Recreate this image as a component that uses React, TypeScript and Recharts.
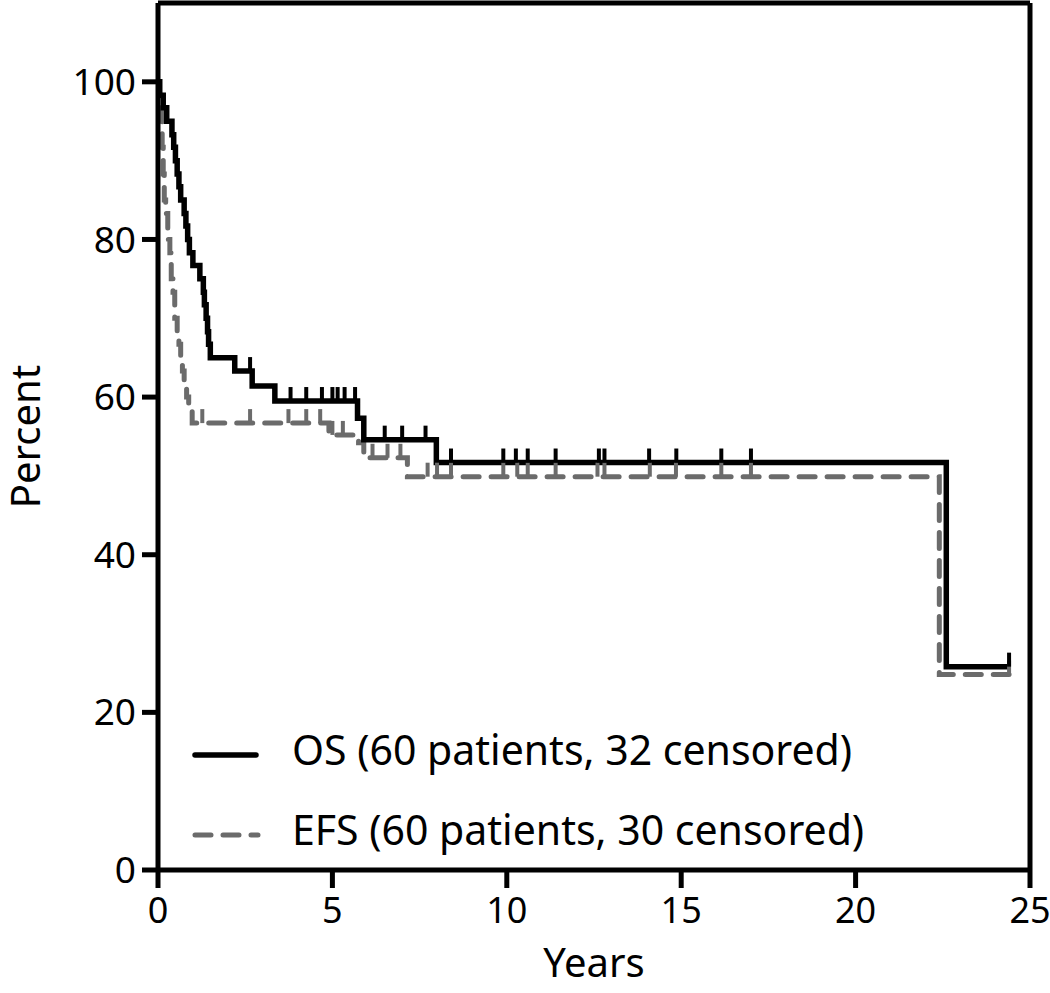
import React from 'react';
import { LineChart, Line, XAxis, YAxis, ReferenceLine } from 'recharts';

// Kaplan-Meier steps (years, percent)
const osTimes = [0, 0.05, 0.15, 0.25, 0.4, 0.45, 0.5, 0.55, 0.6, 0.65, 0.75, 0.8, 0.85, 0.9, 1.0, 1.2, 1.3, 1.33, 1.38, 1.42, 1.45, 1.5, 2.2, 2.7, 3.35, 5.72, 5.9, 7.98, 22.6];
const osPercent = [100, 98.3, 96.7, 95, 93.3, 91.7, 90, 88.3, 86.7, 85, 83.3, 81.7, 80, 78.3, 76.7, 75, 73.3, 71.7, 70, 68.3, 66.7, 65, 63.3, 61.4, 59.5, 57.3, 54.6, 51.7, 25.8];
const osCensored = [2.64, 3.8, 4.25, 4.7, 5.0, 5.15, 5.35, 5.65, 6.5, 7.0, 7.67, 8.4, 9.9, 10.26, 10.6, 11.4, 12.64, 12.8, 14.08, 14.86, 16.15, 17.0, 24.4];

const efsTimes = [0, 0.03, 0.06, 0.1, 0.12, 0.15, 0.18, 0.22, 0.28, 0.34, 0.38, 0.43, 0.48, 0.55, 0.6, 0.65, 0.7, 0.75, 0.82, 0.88, 0.98, 4.9, 5.75, 5.9, 7.15, 22.4];
const efsPercent = [100, 98.3, 96.7, 95, 91.7, 88.3, 85, 83.3, 80, 78.3, 75, 73.3, 70, 68.3, 66.7, 65, 63.3, 61.7, 60, 58.3, 56.7, 55.2, 54.2, 52.3, 49.9, 24.8];
const efsCensored = [1.27, 2.64, 3.74, 4.25, 4.65, 5.0, 5.3, 6.15, 6.58, 6.95, 7.73, 8.0, 8.4, 9.9, 10.3, 10.6, 11.4, 12.6, 12.8, 14.1, 14.85, 16.15, 17.0, 24.4];

const xTicks = [0, 5, 10, 15, 20, 25];
const yTicks = [0, 20, 40, 60, 80, 100];

const FONT = '"Noto Sans", sans-serif';
const GRAY = '#6b6b6b';

type Pt = { t: number; v: number; c: boolean };

function buildSeries(times: number[], pcts: number[], censored: number[]): Pt[] {
  const pts: Pt[] = times.map((t, i) => ({ t, v: pcts[i], c: false }));
  censored.forEach((t) => {
    let v = pcts[0];
    times.forEach((tt, i) => {
      if (tt <= t) v = pcts[i];
    });
    pts.push({ t, v, c: true });
  });
  return pts.sort((a, b) => a.t - b.t);
}

const osData = buildSeries(osTimes, osPercent, osCensored);
const efsData = buildSeries(efsTimes, efsPercent, efsCensored);

const censorDot = (color: string) => (props: any) => {
  const { cx, cy, payload, index } = props;
  if (!payload || !payload.c) return <g key={index} />;
  return <line key={index} x1={cx} x2={cx} y1={cy} y2={cy - 14} stroke={color} strokeWidth={4} />;
};

const App: React.FC = () => {
  return (
    <div style={{ position: 'absolute', left: 0, top: 0, width: 1050, height: 993, background: '#fff' }}>
      <LineChart width={1050} height={993} margin={{ top: 3, right: 20, bottom: 0, left: 0 }}>
        <XAxis
          dataKey="t"
          type="number"
          domain={[0, 25]}
          ticks={xTicks}
          allowDuplicatedCategory={false}
          height={123}
          stroke="#000"
          strokeWidth={5}
          tickSize={18}
          tickMargin={9}
          tick={{ fill: '#000', fontSize: 36, fontFamily: FONT }}
          label={{ value: 'Years', position: 'insideBottom', offset: 16, fill: '#000', fontSize: 40, fontFamily: FONT }}
        />
        <YAxis
          type="number"
          domain={[0, 110]}
          ticks={yTicks}
          width={158}
          stroke="#000"
          strokeWidth={5}
          tickSize={16}
          tickMargin={6}
          tick={{ fill: '#000', fontSize: 37, fontFamily: FONT }}
          label={{ value: 'Percent', angle: -90, position: 'insideLeft', offset: 26, fill: '#000', fontSize: 40, fontFamily: FONT, style: { textAnchor: 'middle' } }}
        />
        <ReferenceLine y={110} stroke="#000" strokeWidth={5} />
        <ReferenceLine x={25} stroke="#000" strokeWidth={5} />
        <Line
          data={efsData}
          dataKey="v"
          type="stepAfter"
          stroke={GRAY}
          strokeWidth={5}
          strokeDasharray="16 12"
          strokeLinecap="round"
          dot={censorDot(GRAY)}
          activeDot={false}
          isAnimationActive={false}
        />
        <Line
          data={osData}
          dataKey="v"
          type="stepAfter"
          stroke="#000"
          strokeWidth={5.5}
          dot={censorDot('#000')}
          activeDot={false}
          isAnimationActive={false}
        />
      </LineChart>
      {/* legend box drawn over the plot, lower left */}
      <svg width={1050} height={993} style={{ position: 'absolute', left: 0, top: 0, pointerEvents: 'none' }}>
        <line x1={195} x2={256} y1={755} y2={755} stroke="#000" strokeWidth={5.5} strokeLinecap="round" />
        <line x1={195} x2={258} y1={835} y2={835} stroke={GRAY} strokeWidth={5} strokeDasharray="16 12" strokeLinecap="round" />
        <text x={292} y={765} fontSize={41} fontFamily={FONT} fill="#000">OS (60 patients, 32 censored)</text>
        <text x={292} y={845} fontSize={41} fontFamily={FONT} fill="#000">EFS (60 patients, 30 censored)</text>
      </svg>
    </div>
  );
};

export default App;
